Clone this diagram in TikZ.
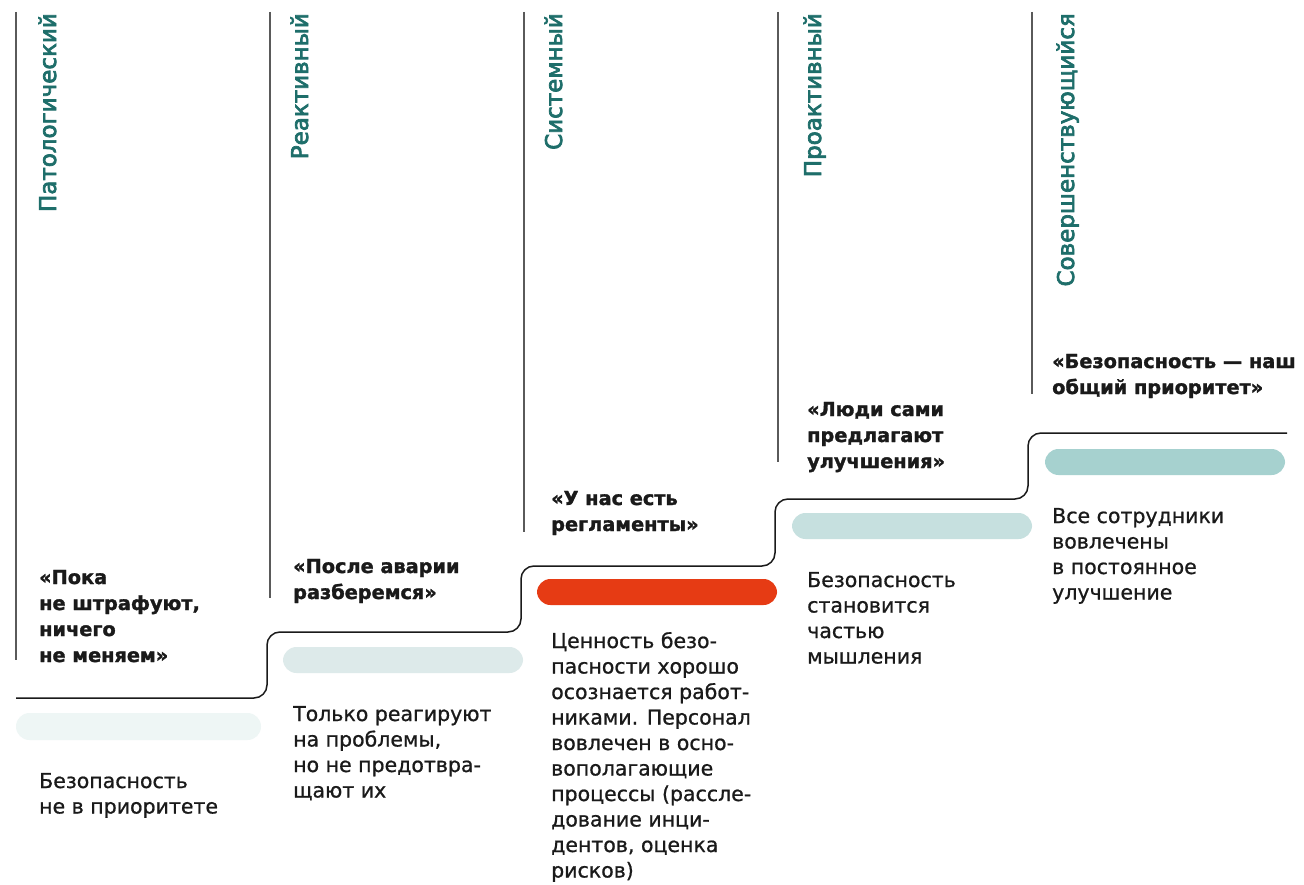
\documentclass[tikz,border=0pt]{standalone}
\usepackage{fontspec}
\setmainfont{DejaVu Sans}
\newfontfamily\titlefont[FakeBold=3]{DejaVu Sans}
\newfontfamily\quotefont[FakeBold=1.5]{DejaVu Sans Bold}
\newfontfamily\bodyfont[FakeBold=0.8]{DejaVu Sans}
\definecolor{teal1}{RGB}{30,110,106}
\definecolor{vgray}{RGB}{90,90,90}
\definecolor{ink}{RGB}{26,26,26}
\definecolor{barA}{RGB}{238,246,245}
\definecolor{barB}{RGB}{221,234,234}
\definecolor{barC}{RGB}{230,59,20}
\definecolor{barD}{RGB}{198,224,223}
\definecolor{barE}{RGB}{166,209,207}
\newcommand{\blkq}[1]{\parbox[t]{300pt}{\raggedright\quotefont\fontsize{19.3}{26}\selectfont #1}}
\newcommand{\blkb}[1]{\parbox[t]{300pt}{\raggedright\bodyfont\fontsize{20.5}{25.5}\selectfont #1}}
\tikzset{
  vline/.style={draw=vgray, line width=1.5pt},
  title/.style={rotate=90, anchor=base east, inner sep=0pt, text=teal1, font=\titlefont\fontsize{23}{23}\selectfont},
  quote/.style={anchor=base west, inner sep=0pt, text=ink},
  body/.style={anchor=base west, inner sep=0pt, text=ink},
  bar/.style={rounded corners=13.5pt},
  stepline/.style={draw=ink, line width=1.5pt, rounded corners=13pt}
}
\begin{document}
\begin{tikzpicture}[x=1pt, y=-1pt]
\useasboundingbox[fill=white] (0,0) rectangle (1304,885);

% vertical separators
\draw[vline] (16,12) coordinate (l1t) -- (16,660) coordinate (l1b);
\draw[vline] (270,12) coordinate (l2t) -- (270,598) coordinate (l2b);
\draw[vline] (524,12) coordinate (l3t) -- (524,532) coordinate (l3b);
\draw[vline] (778,12) coordinate (l4t) -- (778,462) coordinate (l4b);
\draw[vline] (1032,12) coordinate (l5t) -- (1032,394) coordinate (l5b);

% titles
\node[title] (t1) at (56,13) {Патологический};
\node[title] (t2) at (308,13) {Реактивный};
\node[title] (t3) at (562,13) {Системный};
\node[title] (t4) at (821,13) {Проактивный};
\node[title] (t5) at (1074,13) {Совершенствующийся};

% staircase
\draw[stepline] (16,698) coordinate (s0) -- (267,698) -- (267,632) -- (521,632) -- (521,566)
  -- (775,566) -- (775,499) -- (1028,499) -- (1028,433) -- (1287,433) coordinate (s5);

% bars
\fill[bar, barA] (16,713) rectangle (261,740);
\fill[bar, barB] (283,647) rectangle (523,673);
\fill[bar, barC] (537,579) rectangle (777,605);
\fill[bar, barD] (792,513) rectangle (1032,539);
\fill[bar, barE] (1045,449) rectangle (1285,475);

% quotes
\node[quote] (q1) at (39,584) {\blkq{«Пока\\не штрафуют,\\ничего\\не меняем»}};
\node[quote] (q2) at (293,573) {\blkq{«После аварии\\разберемся»}};
\node[quote] (q3) at (551,505) {\blkq{«У нас есть\\регламенты»}};
\node[quote] (q4) at (807,416) {\blkq{«Люди сами\\предлагают\\улучшения»}};
\node[quote] (q5) at (1052,368) {\blkq{«Безопасность — наш\\общий приоритет»}};

% descriptions
\node[body] (b1) at (39,788) {\blkb{Безопасность\\не в приоритете}};
\node[body] (b2) at (293,721) {\blkb{Только реагируют\\на проблемы,\\но не предотвра-\\щают их}};
\node[body] (b3) at (551,648) {\blkb{Ценность безо-\\пасности хорошо\\осознается работ-\\никами. Персонал\\вовлечен в осно-\\вополагающие\\процессы (рассле-\\дование инци-\\дентов, оценка\\рисков)}};
\node[body] (b4) at (807,587) {\blkb{Безопасность\\становится\\частью\\мышления}};
\node[body] (b5) at (1052,523) {\blkb{Все сотрудники\\вовлечены\\в постоянное\\улучшение}};
\end{tikzpicture}
\end{document}
